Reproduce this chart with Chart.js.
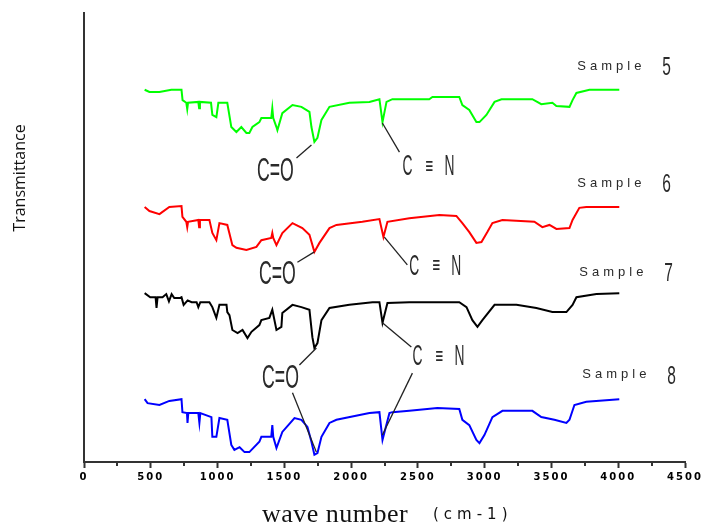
<!DOCTYPE html>
<html><head><meta charset="utf-8">
<script src="https://cdn.jsdelivr.net/npm/chart.js@4"></script>
<style>html,body{margin:0;padding:0;background:#fff}</style>
</head><body>
<canvas id="c" width="704" height="525"></canvas>
<script>
// ---- data (wave number cm-1, transmittance a.u. with vertical offsets) ----
const xTicks = [0,500,1000,1500,2000,2500,3000,3500,4000,4500];
const xMinorTicks = [250,750,1250,1750,2250,2750,3250,3750,4250];
const sampleNames = ['Sample 5','Sample 6','Sample 7','Sample 8'];
const sampleColors = ['#00ff00','#ff0000','#000000','#0000ff'];

const sample5 = [[454,82.9],[490,82.4],[565,82.4],[654,82.9],[730,82.9],[738,80.6],[766,80.0],[773,78.6],[779,80.0],[856,80.2],[862,78.8],[868,80.2],[951,80.0],[961,77.3],[991,76.8],[1006,80.0],[1073,80.0],[1103,74.6],[1141,73.5],[1178,74.6],[1216,73.3],[1238,73.3],[1261,74.6],[1313,75.7],[1328,76.6],[1402,76.6],[1410,78.8],[1417,76.6],[1441,74.6],[1448,73.9],[1485,77.7],[1561,79.5],[1628,79.1],[1688,78.0],[1703,74.6],[1725,71.3],[1748,72.2],[1778,76.2],[1838,79.1],[1987,80.0],[2137,80.2],[2212,80.8],[2235,75.7],[2265,80.2],[2309,80.8],[2585,80.8],[2609,81.3],[2810,81.3],[2833,79.5],[2885,78.4],[2938,75.7],[2961,75.7],[3013,77.3],[3074,80.2],[3126,80.8],[3357,80.8],[3424,79.7],[3507,80.0],[3537,79.3],[3635,79.1],[3658,80.6],[3687,82.2],[3785,82.9],[4008,82.9]];

const sample6 = [[454,56.8],[490,55.9],[565,55.2],[639,56.8],[730,57.0],[737,54.6],[766,53.5],[773,52.3],[779,53.5],[856,53.9],[862,52.3],[868,53.9],[939,53.9],[961,51.0],[991,49.4],[1014,53.2],[1073,52.8],[1111,48.3],[1141,47.7],[1216,47.2],[1291,47.9],[1328,49.4],[1402,49.9],[1410,51.0],[1417,49.9],[1441,48.3],[1485,51.0],[1561,53.2],[1635,52.1],[1688,50.6],[1725,46.8],[1763,48.8],[1838,52.1],[1890,52.8],[2084,53.5],[2212,54.1],[2242,50.1],[2272,53.5],[2436,54.3],[2661,55.0],[2788,54.8],[2833,53.2],[2885,51.2],[2938,48.8],[2976,49.0],[3020,51.2],[3058,53.2],[3133,53.9],[3372,53.5],[3432,52.3],[3485,52.8],[3537,51.9],[3635,52.1],[3658,53.9],[3709,56.6],[3761,56.8],[4008,56.8]];

const sample7 = [[454,37.6],[496,36.7],[536,36.7],[543,34.3],[551,36.7],[588,36.7],[616,37.4],[636,35.8],[656,37.4],[676,36.5],[716,36.5],[730,36.7],[746,35.0],[776,36.0],[806,35.6],[843,35.6],[856,34.5],[871,35.6],[939,35.6],[961,34.5],[991,32.1],[1014,35.0],[1067,35.0],[1073,33.4],[1089,32.7],[1111,29.4],[1150,28.7],[1187,29.4],[1224,27.6],[1254,29.0],[1313,30.5],[1328,31.6],[1388,32.1],[1410,33.9],[1441,29.4],[1478,30.1],[1485,33.2],[1561,35.0],[1628,34.5],[1688,33.9],[1710,27.8],[1725,25.4],[1748,26.5],[1778,31.6],[1838,34.3],[1987,35.0],[2160,35.6],[2212,35.6],[2235,31.0],[2272,35.4],[2436,35.6],[2810,35.6],[2864,34.5],[2908,31.6],[2946,30.1],[2983,31.6],[3074,35.0],[3238,35.0],[3387,34.3],[3507,33.4],[3612,33.4],[3658,35.0],[3687,36.7],[3837,37.4],[4008,37.6]];

const sample8 = [[454,14.0],[476,13.1],[565,12.7],[639,13.6],[730,14.0],[737,11.1],[771,10.9],[775,8.7],[781,10.9],[843,10.9],[856,10.9],[864,8.7],[871,10.9],[954,10.0],[961,5.6],[991,5.6],[1014,9.8],[1073,9.4],[1103,3.8],[1126,2.7],[1165,3.3],[1202,2.2],[1238,2.2],[1313,4.5],[1328,5.6],[1402,5.6],[1410,8.2],[1417,5.6],[1441,3.1],[1485,6.7],[1576,9.8],[1628,9.4],[1673,7.8],[1703,4.5],[1725,1.6],[1748,2.0],[1778,5.6],[1838,8.7],[1890,9.4],[2137,10.9],[2212,11.1],[2235,4.9],[2287,10.9],[2309,11.1],[2436,11.4],[2646,12.0],[2810,11.8],[2833,9.4],[2885,8.2],[2938,4.9],[2961,4.2],[2998,6.0],[3058,10.0],[3133,11.4],[3357,11.4],[3424,10.0],[3522,9.4],[3612,8.7],[3635,9.4],[3672,12.7],[3761,13.4],[4008,14.0]];

// annotation anchors in data units
const bondLabels = [
  {text:'C=O', x:1433, y:64.8}, {text:'C≡N', x:2384, y:65.9},
  {text:'C=O', x:1448, y:41.9}, {text:'C≡N', x:2436, y:43.7},
  {text:'C=O', x:1471, y:18.7}, {text:'C≡N', x:2459, y:23.6}
];
const leaders = [
  [1591,67.7,1703,70.6],[2234,75.5,2362,69.0],
  [1598,44.5,1725,46.8],[2249,50.1,2421,43.9],
  [1613,21.6,1740,25.4],[2234,31.0,2451,25.6],
  [1561,15.4,1740,2.2],[2459,19.8,2234,6.0]
];
const sampleLabels = [
  {word:'Sample', num:'5', x:3694, y:88.2},
  {word:'Sample', num:'6', x:3694, y:62.1},
  {word:'Sample', num:'7', x:3709, y:42.3},
  {word:'Sample', num:'8', x:3731, y:19.4}
];

const allSeries = [sample5, sample6, sample7, sample8];

const decor = {
  id:'decor',
  beforeDraw(chart){ chart.ctx.letterSpacing = '2px'; },
  afterDraw(chart){
    const ctx = chart.ctx, xs = chart.scales.x, ys = chart.scales.y;
    ctx.save();
    ctx.letterSpacing = '0px';
    // minor ticks
    ctx.strokeStyle = '#333'; ctx.lineWidth = 2;
    const yb = chart.chartArea.bottom;
    xMinorTicks.forEach(v => {
      const px = Math.round(xs.getPixelForValue(v));
      ctx.beginPath(); ctx.moveTo(px, yb); ctx.lineTo(px, yb + 4); ctx.stroke();
    });
    // leader lines
    ctx.strokeStyle = '#222'; ctx.lineWidth = 1.3;
    leaders.forEach(l => {
      ctx.beginPath();
      ctx.moveTo(xs.getPixelForValue(l[0]), ys.getPixelForValue(l[1]));
      ctx.lineTo(xs.getPixelForValue(l[2]), ys.getPixelForValue(l[3]));
      ctx.stroke();
    });
    // bond labels
    ctx.fillStyle = '#2a2a2a';
    ctx.textBaseline = 'middle';
    bondLabels.forEach(b => {
      const px = xs.getPixelForValue(b.x), py = ys.getPixelForValue(b.y);
      if (b.text === 'C=O') {
        ctx.save(); ctx.translate(px, py); ctx.scale(0.52, 1);
        ctx.font = '34px "Liberation Sans", "DejaVu Sans"';
        ctx.textAlign = 'center'; ctx.fillText('C=O', 0, 1);
        ctx.restore();
      } else {
        const parts = [['C',0],['≡',27],['N',42]];
        parts.forEach(p => {
          ctx.save(); ctx.translate(px + p[1], py); ctx.scale(p[0]==='≡'?0.55:0.46, 1);
          ctx.font = (p[0]==='≡'?'24px':'30px') + ' "Liberation Sans", "DejaVu Sans"';
          ctx.textAlign = p[0]==='≡' ? 'center' : 'left';
          ctx.fillText(p[0], 0, 1);
          ctx.restore();
        });
      }
    });
    // sample labels
    sampleLabels.forEach(s => {
      const px = xs.getPixelForValue(s.x), py = ys.getPixelForValue(s.y);
      ctx.save();
      ctx.font = '13px "Liberation Sans"';
      ctx.letterSpacing = '4px';
      ctx.textAlign = 'left';
      ctx.fillText(s.word, px, py);
      ctx.restore();
      ctx.save(); ctx.translate(px + 85, py + 2); ctx.scale(0.62, 1);
      ctx.font = '25px "Liberation Sans"'; ctx.textAlign = 'left';
      ctx.fillText(s.num, 0, 0);
      ctx.restore();
    });
    // axis titles
    ctx.save();
    ctx.translate(20, 178); ctx.rotate(-Math.PI/2);
    ctx.font = '16px "Open Sans"'; ctx.fillStyle = '#111';
    ctx.textAlign = 'center'; ctx.textBaseline = 'middle';
    ctx.fillText('Transmittance', 0, 0);
    ctx.restore();
    ctx.fillStyle = '#111';
    ctx.textBaseline = 'alphabetic'; ctx.textAlign = 'left';
    ctx.font = '26px "Liberation Serif"';
    ctx.letterSpacing = '0.5px';
    ctx.fillText('wave number', 262, 522);
    ctx.font = '15px "DejaVu Sans"';
    ctx.letterSpacing = '5px';
    ctx.fillText('(cm-1)', 433, 519);
    ctx.restore();
  }
};

new Chart(document.getElementById('c'), {
  type: 'line',
  data: {
    datasets: allSeries.map((s, i) => ({
      label: sampleNames[i],
      data: s.map(p => ({x: p[0], y: p[1]})),
      borderColor: sampleColors[i],
      borderWidth: 2,
      pointRadius: 0,
      tension: 0,
      fill: false
    }))
  },
  options: {
    responsive: false, animation: false, devicePixelRatio: 1,
    layout: {padding: {left: 84, right: 19, top: 13, bottom: 0}},
    plugins: {legend: {display: false}, tooltip: {enabled: false}},
    scales: {
      x: {
        type: 'linear', min: 0, max: 4500,
        afterBuildTicks: s => { s.ticks = xTicks.map(v => ({value: v})); },
        ticks: {
          callback: v => String(v), autoSkip: false, maxRotation: 0,
          font: {family: '"DejaVu Sans"', size: 10, weight: 'bold'},
          color: '#000', padding: 3
        },
        grid: {drawOnChartArea: false, tickLength: 6, tickColor: '#333', tickWidth: 2},
        border: {color: '#333', width: 2},
        afterFit: s => { s.height = 63; }
      },
      y: {
        min: 0, max: 100,
        ticks: {display: false},
        grid: {display: false},
        border: {color: '#333', width: 2},
        afterFit: s => { s.width = 0; }
      }
    }
  },
  plugins: [decor]
});
</script>
</body></html>
